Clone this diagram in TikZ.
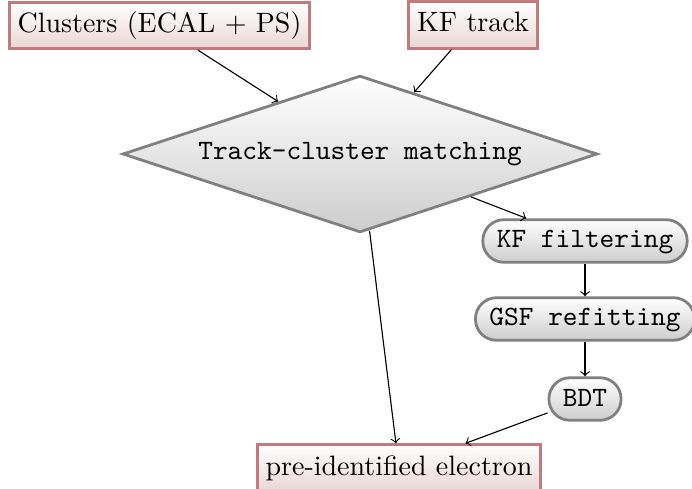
\documentclass[tikz,border=0pt]{standalone}
\usetikzlibrary{shapes.geometric}
\definecolor{boxborder}{RGB}{192,124,124}
\definecolor{boxbottom}{RGB}{234,214,214}
\definecolor{grayborder}{RGB}{128,128,128}
\definecolor{graybottom}{RGB}{205,205,205}
\tikzset{
  inbox/.style={rectangle, draw=boxborder, line width=1pt, top color=white, bottom color=boxbottom,
    inner xsep=3pt, inner ysep=3.3pt, text height=7.5pt, text depth=2.5pt, font=\rmfamily},
  procbox/.style={rectangle, rounded corners=7.5pt, draw=grayborder, line width=1pt, top color=white,
    bottom color=graybottom, inner xsep=5pt, minimum height=15.2pt, text height=6.5pt, text depth=1.5pt, font=\ttfamily},
  decbox/.style={diamond, draw=grayborder, line width=1pt, top color=white, bottom color=graybottom,
    aspect=3, inner sep=0pt, minimum width=169.6pt, minimum height=56pt, font=\ttfamily},
  conn/.style={->, thin}
}
\begin{document}
\begin{tikzpicture}[x=0.35714pt, y=-0.35714pt]
\useasboundingbox (0,0) rectangle (692,489);
\node[inbox] (clu) at (159.5,25.5) {Clusters (ECAL + PS)};
\node[inbox] (kft) at (473,25) {KF track};
\node[decbox] (tcm) at (360,154) {Track-cluster matching};
\node[procbox] (kff) at (585,241) {KF filtering};
\node[procbox] (gsf) at (585,319) {GSF refitting};
\node[procbox] (bdt) at (585,399) {BDT};
\node[inbox] (pie) at (399,468) {pre-identified electron};
\draw[conn] (clu) -- (tcm);
\draw[conn] (kft) -- (tcm);
\draw[conn] (tcm) -- (kff);
\draw[conn] (kff) -- (gsf);
\draw[conn] (gsf) -- (bdt);
\draw[conn] (tcm) -- (pie);
\draw[conn] (bdt) -- (pie);
\end{tikzpicture}
\end{document}
